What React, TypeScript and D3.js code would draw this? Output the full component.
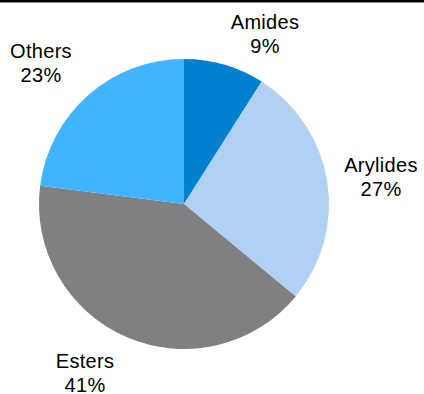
import React from "react";
import * as d3 from "d3";

const categories = ["Amides", "Arylides", "Esters", "Others"];
const values = [9, 27, 41, 23];
const colors = ["#0080D0", "#B0D0F6", "#808080", "#40B4FF"];
const labelText = ["9%", "27%", "41%", "23%"];

const W = 424;
const H = 394;
const cx = 184;
const cy = 204;
const R = 145;

// label anchor positions (center x, first-line baseline)
const labelPos: [number, number][] = [
  [265, 29],
  [381, 172],
  [85, 368],
  [41, 58],
];

export default function App() {
  const pie = d3
    .pie<number>()
    .sort(null)
    .startAngle(0)
    .endAngle(2 * Math.PI)
    .value((d) => d);
  const arcs = pie(values);
  const arc = d3.arc<d3.PieArcDatum<number>>().innerRadius(0).outerRadius(R);

  return (
    <svg
      width={W}
      height={H}
      style={{ position: "absolute", left: 0, top: 0, background: "#fff" }}
      fontFamily="'Liberation Sans', Arial, sans-serif"
    >
      <rect x={0} y={0} width={W} height={2.5} fill="#000" />
      <g transform={`translate(${cx},${cy})`}>
        {arcs.map((a, i) => (
          <path key={categories[i]} d={arc(a) || ""} fill={colors[i]} />
        ))}
      </g>
      {categories.map((c, i) => (
        <text
          key={c}
          x={labelPos[i][0]}
          y={labelPos[i][1]}
          textAnchor="middle"
          fontSize={20}
          letterSpacing={0.3}
          fill="#000"
        >
          <tspan x={labelPos[i][0]}>{c}</tspan>
          <tspan x={labelPos[i][0]} dy={23.5}>
            {labelText[i]}
          </tspan>
        </text>
      ))}
    </svg>
  );
}
